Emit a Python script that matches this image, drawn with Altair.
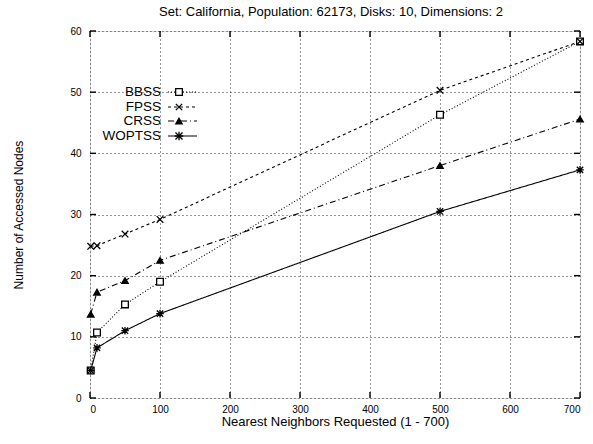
import altair as alt
import pandas as pd

series_names = ["BBSS", "FPSS", "CRSS", "WOPTSS"]
k_values = [1, 10, 50, 100, 500, 700]
bbss = [4.5, 10.7, 15.3, 19.0, 46.3, 58.3]
fpss = [24.8, 24.9, 26.8, 29.2, 50.3, 58.3]
crss = [13.7, 17.3, 19.2, 22.5, 38.0, 45.6]
woptss = [4.5, 8.2, 11.0, 13.8, 30.5, 37.3]
x_ticks = [0, 100, 200, 300, 400, 500, 600, 700]
y_ticks = [0, 10, 20, 30, 40, 50, 60]

rows = []
for name, vals in zip(series_names, [bbss, fpss, crss, woptss]):
    for k, v in zip(k_values, vals):
        rows.append({"series": name, "k": k, "nodes": v})
df = pd.DataFrame(rows)

FONT = "Liberation Sans"
dashes = [[1, 2], [3, 3], [6, 3, 1, 3], [1, 0]]
x_path = "M-1,-1L1,1M-1,1L1,-1"
ast_path = "M-1,-1L1,1M-1,1L1,-1M0,-1.2L0,1.2M-1.2,0L1.2,0"
shapes = ["square", x_path, "triangle-up", ast_path]
fills = ["white", "black", "black", "black"]
sizes = [45, 40, 40, 50]

W, H = 490, 367
xs = alt.Scale(domain=[0, 700], nice=False)
ys = alt.Scale(domain=[0, 60], nice=False)

xenc = alt.X("k:Q", scale=xs, axis=alt.Axis(values=x_ticks, title="Nearest Neighbors Requested (1 - 700)",
                                            grid=True, gridDash=[1, 3], gridColor="#333", tickSize=0,
                                            labelPadding=6, titlePadding=1, domain=False,
                                            titleFontWeight="normal", titleFontSize=13))
yenc = alt.Y("nodes:Q", scale=ys, axis=alt.Axis(values=y_ticks, title="Number of Accessed Nodes",
                                                grid=True, gridDash=[1, 3], gridColor="#333", tickSize=0,
                                                labelPadding=9, titlePadding=44, domain=False,
                                                titleFontWeight="normal", titleFontSize=12))

dom = alt.Scale(domain=series_names, range=dashes)
lines = alt.Chart(df).mark_line(color="black", strokeWidth=1.1).encode(
    x=xenc, y=yenc,
    strokeDash=alt.StrokeDash("series:N", scale=dom, legend=None),
    detail="series:N",
)
points = alt.Chart(df).mark_point(stroke="black", strokeWidth=1.3, opacity=1).encode(
    x=alt.X("k:Q", scale=xs),
    y=alt.Y("nodes:Q", scale=ys),
    shape=alt.Shape("series:N", scale=alt.Scale(domain=series_names, range=shapes), legend=None),
    fill=alt.Fill("series:N", scale=alt.Scale(domain=series_names, range=fills), legend=None),
    size=alt.Size("series:N", scale=alt.Scale(domain=series_names, range=sizes), legend=None),
)

xt = pd.DataFrame({"k": x_ticks})
yt = pd.DataFrame({"nodes": y_ticks})
tick_layers = [
    alt.Chart(xt).mark_rule(color="black", strokeWidth=1.4).encode(
        x=alt.X("k:Q", scale=xs), y=alt.value(H), y2=alt.value(H - 6)),
    alt.Chart(xt).mark_rule(color="black", strokeWidth=1.4).encode(
        x=alt.X("k:Q", scale=xs), y=alt.value(0), y2=alt.value(6)),
    alt.Chart(yt).mark_rule(color="black", strokeWidth=1.4).encode(
        y=alt.Y("nodes:Q", scale=ys), x=alt.value(0), x2=alt.value(6)),
    alt.Chart(yt).mark_rule(color="black", strokeWidth=1.4).encode(
        y=alt.Y("nodes:Q", scale=ys), x=alt.value(W), x2=alt.value(W - 6)),
]

legend_layers = []
row_y = [61, 76, 90, 105]
for i, name in enumerate(series_names):
    ly = row_y[i]
    legend_layers.append(
        alt.Chart(pd.DataFrame({"t": [name]})).mark_text(align="right", baseline="middle", font=FONT,
                                                         fontSize=13.5, color="black").encode(
            text="t:N", x=alt.value(71), y=alt.value(ly))
    )
    legend_layers.append(
        alt.Chart(pd.DataFrame({"t": [name]})).mark_rule(color="black", strokeWidth=1.1, strokeDash=dashes[i]).encode(
            x=alt.value(78), x2=alt.value(107), y=alt.value(ly))
    )
    legend_layers.append(
        alt.Chart(pd.DataFrame({"t": [name]})).mark_point(shape=shapes[i], fill=fills[i], stroke="black",
                                                          strokeWidth=1.3, size=sizes[i], opacity=1).encode(
            x=alt.value(89), y=alt.value(ly))
    )

chart = alt.layer(lines, points, *tick_layers, *legend_layers).properties(
    width=W, height=H,
    title=alt.TitleParams("Set: California, Population: 62173, Disks: 10, Dimensions: 2",
                          font=FONT, fontSize=13, fontWeight="normal", dx=-4, offset=7),
    autosize=alt.AutoSizeParams(type="none"),
    padding={"left": 90, "top": 31, "right": 13, "bottom": 46},
).configure_view(stroke="black", strokeWidth=1.6).configure_axis(
    labelFont=FONT, labelFontSize=14, labelColor="black",
    titleFont=FONT, titleColor="black",
).configure(background="white")

chart.save("out.html", embed_options={"renderer": "svg", "actions": False})
